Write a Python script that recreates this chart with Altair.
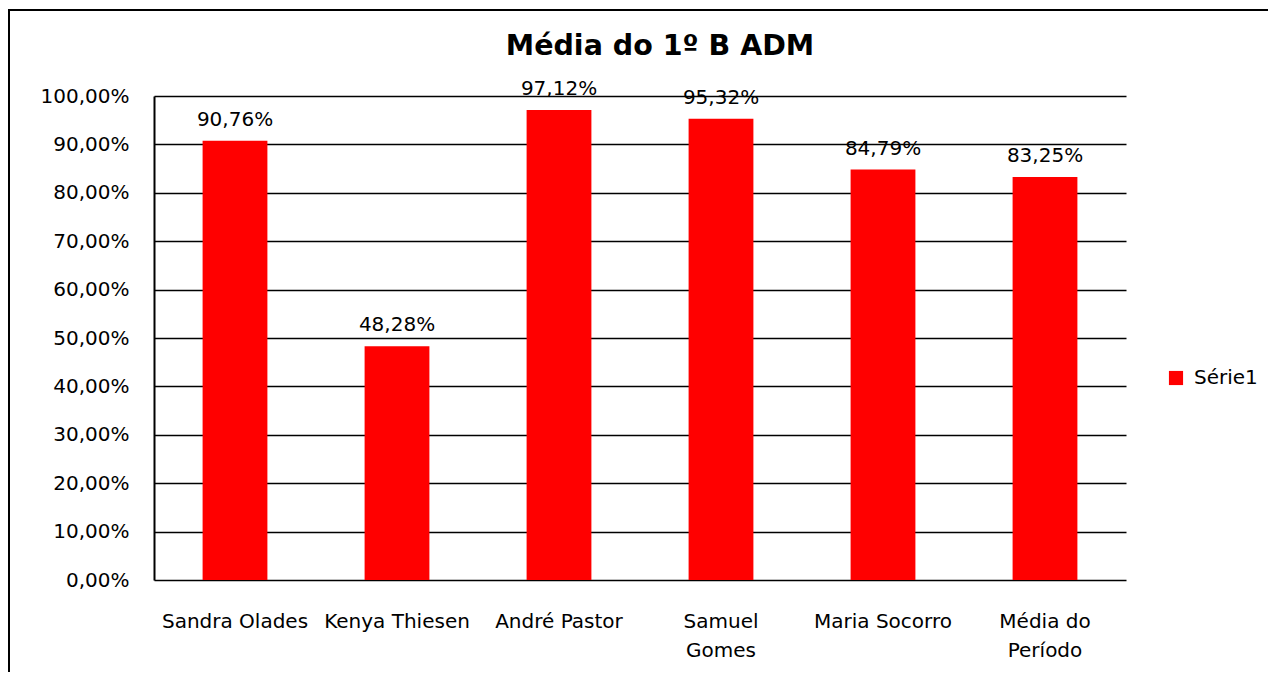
import altair as alt
import pandas as pd

categories = ["Sandra Olades", "Kenya Thiesen", "André Pastor", "Samuel\nGomes", "Maria Socorro", "Média do\nPeríodo"]
values = [90.76, 48.28, 97.12, 95.32, 84.79, 83.25]
series = ["Série1"] * len(categories)
title_text = "Média do 1º B ADM"

df = pd.DataFrame({"cat": categories, "value": values, "series": series})

FONT = "DejaVu Sans"

base = alt.Chart(df)

bars = base.mark_bar(color="#ff0000").encode(
    x=alt.X("cat:N", sort=categories, title=None,
            scale=alt.Scale(paddingInner=0.6, paddingOuter=0.3),
            axis=alt.Axis(labelAngle=0, labelFont=FONT, labelFontSize=20, labelColor="#000",
                          labelExpr="split(datum.label, '\\n')", labelLineHeight=29,
                          labelBaseline="alphabetic", labelPadding=47, ticks=False, tickSize=0,
                          domain=False, grid=False)),
    y=alt.Y("value:Q", title=None,
            scale=alt.Scale(domain=[0, 100], nice=False),
            axis=alt.Axis(values=[0, 10, 20, 30, 40, 50, 60, 70, 80, 90, 100],
                          labelExpr="replace(format(datum.value, '.2f'), '.', ',') + '%'",
                          labelFont=FONT, labelFontSize=20, labelColor="#000",
                          labelPadding=25, ticks=False, tickSize=0,
                          domain=True, domainColor="#000", domainWidth=2,
                          grid=True, gridColor="#000", gridWidth=1.5, gridOpacity=1)),
    color=alt.Color("series:N", scale=alt.Scale(range=["#ff0000"]),
                    legend=alt.Legend(title=None, orient="none", legendX=1012, legendY=272,
                                      symbolType="square", symbolSize=200, symbolStrokeWidth=0,
                                      labelFont=FONT, labelFontSize=20, labelColor="#000",
                                      labelOffset=8, padding=0)),
)

labels = base.transform_calculate(
    lab="replace(format(datum.value, '.2f'), '.', ',') + '%'"
).mark_text(font=FONT, fontSize=20, color="#000", baseline="alphabetic", dy=-15).encode(
    x=alt.X("cat:N", sort=categories),
    y=alt.Y("value:Q"),
    text="lab:N",
)

title = alt.Chart(alt.Data(values=[{"t": title_text}])).mark_text(
    font=FONT, fontSize=28.5, fontWeight="bold", color="#000", align="center", baseline="alphabetic"
).encode(
    x=alt.value(506), y=alt.value(-41), text="t:N"
)

frame = alt.Chart(alt.Data(values=[{"a": 1}])).mark_rect(
    fill=None, stroke="#000", strokeWidth=2
).encode(
    x=alt.value(-145), x2=alt.value(1300), y=alt.value(-86), y2=alt.value(800)
)

chart = alt.layer(frame, bars, labels, title).properties(
    width=972, height=484,
    autosize=alt.AutoSizeParams(type="none"),
    padding={"left": 146, "top": 88, "right": 142, "bottom": 92},
).configure_view(stroke=None)

chart.save("out.html", embed_options={"renderer": "svg", "actions": False})
